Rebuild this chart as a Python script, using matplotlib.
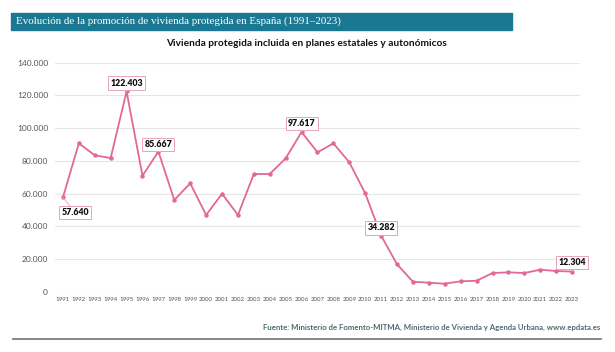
import matplotlib.pyplot as plt
from matplotlib.ticker import FuncFormatter

years = list(range(1991, 2024))
viviendas = [57640, 90700, 83400, 81700, 122403, 70900, 85667, 56060, 66270,
             46900, 59900, 46900, 71950, 71950, 81550, 97617, 85200, 90700,
             79100, 60150, 34282, 16750, 6100, 5500, 4900, 6350, 6700, 11400,
             11850, 11400, 13450, 12650, 12304]
# year -> label offset (points) for the highlighted values
labeled = {1991: (9, -11), 1995: (0, 6), 1997: (0, 5), 2006: (0, 6),
           2011: (0, 5.5), 2023: (0, 6.5)}

title = "Evolución de la promoción de vivienda protegida en España (1991–2023)"
subtitle = "Vivienda protegida incluida en planes estatales y autonómicos"
source = ("Fuente: Ministerio de Fomento-MITMA, Ministerio de Vivienda y "
          "Agenda Urbana, www.epdata.es")

pink = "#e2679a"
teal = "#1b7892"

plt.rcParams["font.family"] = ["Lato", "DejaVu Sans"]

fig = plt.figure(figsize=(6.15, 3.52), dpi=100)
ax = fig.add_axes([0.0894, 0.1713, 0.8537, 0.6506])

# title bar
fig.patches.append(plt.Rectangle((11 / 615, 1 - 30 / 352), 501 / 615, 17 / 352,
                                 transform=fig.transFigure, color=teal))
fig.text(16 / 615, 1 - 21.5 / 352, title, color="white", fontsize=7.9,
         family="Liberation Serif", va="center", ha="left")
fig.text(306 / 615, 1 - 44 / 352, subtitle, fontsize=7.3, fontweight="bold",
         va="center", ha="center", color="#111111")

ax.plot(years, viviendas, color=pink, lw=1.3, marker="o", ms=2.2, zorder=3)

for yr, off in labeled.items():
    v = viviendas[years.index(yr)]
    txt = f"{v:,}".replace(",", ".")
    ax.annotate(txt, (yr, v), xytext=off, textcoords="offset points",
                ha="center", va="center", fontsize=6.3, fontweight="heavy",
                color="#111111", zorder=5,
                bbox=dict(boxstyle="square,pad=0.25", fc="white", ec="#e8a5b5", lw=0.7),
                arrowprops=dict(arrowstyle="-", color="#e8a5b5", lw=0.6,
                                shrinkA=0, shrinkB=0))

ax.set_xlim(1990.5, 2023.5)
ax.set_ylim(0, 140000)
ax.set_xticks(years)
ax.set_xticklabels([str(y) for y in years], fontsize=4.4, color="#555555")
ax.set_yticks(range(0, 140001, 20000))
ax.yaxis.set_major_formatter(FuncFormatter(lambda v, p: f"{int(v):,}".replace(",", ".")))
ax.tick_params(axis="y", labelsize=6.0, colors="#555555", length=0, pad=5)
ax.tick_params(axis="x", length=0, pad=4)
ax.grid(axis="y", color="#e6e6e6", lw=0.8)
ax.set_axisbelow(True)
for s in ax.spines.values():
    s.set_visible(False)

fig.text(600 / 615, 1 - 327 / 352, source, fontsize=5.55, fontweight="bold",
         color="#4f6a70", ha="right", va="center")
fig.add_artist(plt.Line2D([13 / 615, 601 / 615], [1 - 338.5 / 352] * 2,
                          transform=fig.transFigure, color="#6b7674", lw=1.2))

fig.savefig("out.png", dpi=100)
